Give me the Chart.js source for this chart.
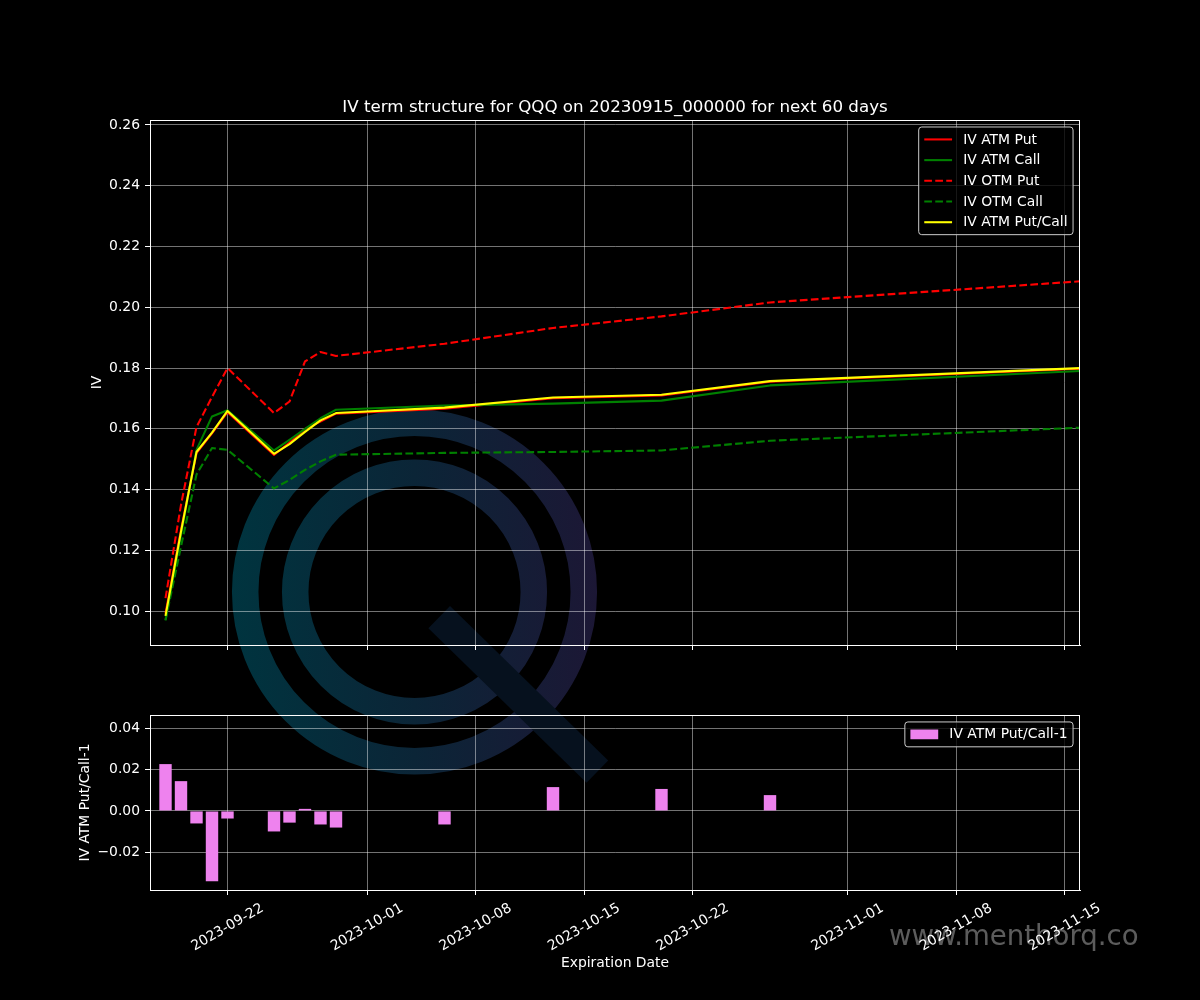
<!DOCTYPE html>
<html>
<head>
<meta charset="utf-8">
<title>IV term structure for QQQ</title>
<script src="https://cdn.jsdelivr.net/npm/chart.js@4.4.0/dist/chart.umd.min.js"></script>
<style>
  html, body { margin: 0; padding: 0; background: #000; }
  #wrap { position: relative; width: 1200px; height: 1000px; overflow: hidden; }
  #wrap canvas { position: absolute; left: 0; }
  #mark { top: 0; }
  #ivChart { top: 0; }
  #diffChart { top: 700px; }
</style>
</head>
<body>
<div id="wrap">
  <canvas id="mark" width="1200" height="1000"></canvas>
  <canvas id="ivChart" width="1200" height="700"></canvas>
  <canvas id="diffChart" width="1200" height="300"></canvas>
</div>
<script>
// Expiration dates and implied vols
const expiries = ['2023-09-18', '2023-09-19', '2023-09-20', '2023-09-21', '2023-09-22',
                  '2023-09-25', '2023-09-26', '2023-09-27', '2023-09-28', '2023-09-29',
                  '2023-10-06', '2023-10-13', '2023-10-20', '2023-10-27', '2023-11-17'];
const ivAtmPut     = [0.0993, 0.1268, 0.1520, 0.1585, 0.1655, 0.1514, 0.1555, 0.1600, 0.1624, 0.1650, 0.1666, 0.1701, 0.1710, 0.1755, 0.1800];
const ivAtmCall    = [0.0971, 0.1250, 0.1531, 0.1641, 0.1661, 0.1529, 0.1564, 0.1600, 0.1635, 0.1663, 0.1677, 0.1683, 0.1693, 0.1743, 0.1793];
const ivOtmPut     = [0.1043, 0.1350, 0.1606, 0.1705, 0.1800, 0.1652, 0.1690, 0.1822, 0.1853, 0.1840, 0.1880, 0.1932, 0.1970, 0.2016, 0.2089];
const ivOtmCall    = [0.0970, 0.1213, 0.1450, 0.1537, 0.1531, 0.1404, 0.1432, 0.1465, 0.1493, 0.1515, 0.1521, 0.1524, 0.1529, 0.1561, 0.1606];
const ivAtmPutCall = [0.0985, 0.1262, 0.1524, 0.1588, 0.1659, 0.1518, 0.1550, 0.1590, 0.1628, 0.1652, 0.1670, 0.1703, 0.1712, 0.1757, 0.1802];
const putCallDiff  = [0.0228, 0.0145, -0.0061, -0.0342, -0.0037, -0.0100, -0.0057, 0.0010, -0.0066, -0.0081, -0.0066, 0.0116, 0.0107, 0.0077, 0.0022];

// axis ticks and ranges
const xTickDates = ['2023-09-22', '2023-10-01', '2023-10-08', '2023-10-15', '2023-10-22', '2023-11-01', '2023-11-08', '2023-11-15'];
const xRange = ['2023-09-17', '2023-11-16'];
const ivTicks = [0.10, 0.12, 0.14, 0.16, 0.18, 0.20, 0.22, 0.24, 0.26];
const ivRange = [0.0889, 0.2616];
const diffTicks = [-0.02, 0.00, 0.02, 0.04];
const diffRange = [-0.0385, 0.0467];

const FONT = 'DejaVu Sans';
const FS = 13.9;          // 10pt at 100 dpi
const GRID = 'rgba(255,255,255,0.45)';

Chart.defaults.color = '#fff';
Chart.defaults.font.family = FONT;
Chart.defaults.font.size = FS;

function dayNum(s) {
    return Date.parse(s + 'T00:00:00Z') / 86400000;
}

function points(values) {
    return expiries.map((d, i) => ({ x: dayNum(d), y: values[i] }));
}

function xAxis(showLabels, titleText) {
    return {
        type: 'linear',
        min: dayNum(xRange[0]),
        max: dayNum(xRange[1]),
        offset: false,
        afterBuildTicks: s => { s.ticks = xTickDates.map(d => ({ value: dayNum(d) })); },
        afterFit: s => { s.height = showLabels ? 110 : 55; },
        ticks: {
            display: showLabels,
            autoSkip: false,
            minRotation: 30,
            maxRotation: 30,
            labelOffset: 35,
            padding: 5,
            color: '#fff',
            callback: (v, i) => xTickDates[i]
        },
        grid: { color: GRID, tickColor: '#fff', tickLength: 5, lineWidth: 1, offset: false },
        border: { color: '#fff', width: 1 },
        title: {
            display: !!titleText,
            text: titleText || '',
            color: '#fff',
            padding: { top: 0, bottom: 28 }
        }
    };
}

function yAxis(range, tickValues, titleText, titleGap, fmt) {
    return {
        type: 'linear',
        min: range[0],
        max: range[1],
        afterBuildTicks: s => { s.ticks = tickValues.map(v => ({ value: v })); },
        afterFit: s => { s.width = 150; },
        ticks: {
            padding: 5,
            color: '#fff',
            callback: v => fmt(v)
        },
        grid: { color: GRID, tickColor: '#fff', tickLength: 5, lineWidth: 1 },
        border: { color: '#fff', width: 1 },
        title: {
            display: true,
            text: titleText,
            color: '#fff',
            padding: { top: titleGap, bottom: 0 }
        }
    };
}

// full box around the plot area plus a matplotlib-like legend
const axesDecor = {
    id: 'axesDecor',
    afterDatasetsDraw(chart) {
        const a = chart.chartArea;
        const ctx = chart.ctx;
        ctx.save();
        ctx.strokeStyle = '#fff';
        ctx.lineWidth = 1;
        ctx.strokeRect(Math.round(a.left) + 0.5, Math.round(a.top) + 0.5,
                       Math.round(a.right - a.left) - 1, Math.round(a.bottom - a.top));
        ctx.restore();
    },
    afterDraw(chart) {
        const ctx = chart.ctx;
        const a = chart.chartArea;
        const isBar = chart.config.type === 'bar';
        const items = chart.data.datasets.map(ds => ({
            label: ds.label,
            color: isBar ? ds.backgroundColor : ds.borderColor,
            dash: ds.borderDash || [],
            width: ds.borderWidth
        }));
        ctx.save();
        ctx.font = FS + 'px ' + FONT;
        const textW = Math.max(...items.map(it => ctx.measureText(it.label).width));
        const pad = 0.4 * FS, handle = 2 * FS, gap = 0.8 * FS, spacing = 0.5 * FS, outer = 0.5 * FS;
        const rowH = 13.75;
        const w = pad * 2 + handle + gap + textW;
        const h = pad * 2 + items.length * rowH + (items.length - 1) * spacing;
        const x0 = a.right - outer - w;
        const y0 = a.top + outer;

        ctx.beginPath();
        ctx.roundRect(x0, y0, w, h, 3);
        ctx.fillStyle = 'rgba(0,0,0,0.8)';
        ctx.fill();
        ctx.strokeStyle = 'rgba(204,204,204,1)';
        ctx.lineWidth = 1;
        ctx.stroke();

        items.forEach((it, i) => {
            const cy = y0 + pad + rowH / 2 + i * (rowH + spacing);
            const hx = x0 + pad;
            if (isBar) {
                ctx.fillStyle = it.color;
                ctx.fillRect(hx, cy - 0.35 * FS, handle, 0.7 * FS);
            } else {
                ctx.strokeStyle = it.color;
                ctx.lineWidth = it.width;
                ctx.setLineDash(it.dash);
                ctx.beginPath();
                ctx.moveTo(hx, cy);
                ctx.lineTo(hx + handle, cy);
                ctx.stroke();
                ctx.setLineDash([]);
            }
            ctx.fillStyle = '#fff';
            ctx.textBaseline = 'middle';
            ctx.fillText(it.label, hx + handle + gap, cy + 0.5);
        });
        ctx.restore();
    }
};

function lineSet(label, values, color, dashed, order) {
    return {
        label: label,
        data: points(values),
        borderColor: color,
        backgroundColor: color,
        borderWidth: 2.08,
        borderDash: dashed ? [7.7, 3.3] : [],
        borderJoinStyle: 'round',
        borderCapStyle: 'butt',
        pointRadius: 0,
        tension: 0,
        fill: false,
        order: order
    };
}

const fmt2 = v => (v < 0 ? '\u2212' : '') + Math.abs(v).toFixed(2);

// Watermark behind both panels
function drawWatermark() {
    const c = document.getElementById('mark').getContext('2d');
    const cx = 414.5, cy = 592;
    const grad = c.createLinearGradient(232, 0, 597, 0);
    grad.addColorStop(0, '#00343f');
    grad.addColorStop(0.5, '#0b2537');
    grad.addColorStop(1, '#1c1735');
    c.strokeStyle = grad;
    c.lineWidth = 26.5;
    [169.3, 119.3].forEach(r => {
        c.beginPath();
        c.arc(cx, cy, r, 0, Math.PI * 2);
        c.stroke();
    });
    c.save();
    c.translate(439.2, 617.2);
    c.rotate(Math.atan2(154.5, 158.3));
    c.fillStyle = '#06111e';
    c.fillRect(0, -15.5, 221, 31);
    c.restore();
    c.font = '27.6px ' + FONT;
    c.fillStyle = 'rgba(128,128,128,0.72)';
    c.textBaseline = 'alphabetic';
    c.fillText('www.menthorq.co', 889, 945);
}

document.addEventListener('DOMContentLoaded', function() {
    drawWatermark();

    // IV term structure (top panel)
    const ivCtx = document.getElementById('ivChart').getContext('2d');
    new Chart(ivCtx, {
        type: 'line',
        data: {
            datasets: [
                lineSet('IV ATM Put', ivAtmPut, '#ff0000', false, 5),
                lineSet('IV ATM Call', ivAtmCall, '#008000', false, 4),
                lineSet('IV OTM Put', ivOtmPut, '#ff0000', true, 3),
                lineSet('IV OTM Call', ivOtmCall, '#008000', true, 2),
                lineSet('IV ATM Put/Call', ivAtmPutCall, '#ffff00', false, 1)
            ]
        },
        options: {
            responsive: false,
            animation: false,
            devicePixelRatio: 1,
            layout: { padding: { top: 98, left: 0, right: 120, bottom: 0 } },
            plugins: {
                legend: { display: false },
                tooltip: { enabled: false },
                title: {
                    display: true,
                    text: 'IV term structure for QQQ on 20230915_000000 for next 60 days',
                    color: '#fff',
                    fullSize: false,
                    font: { size: 16.7, weight: 'normal' },
                    padding: { top: 0, bottom: 2 }
                }
            },
            scales: {
                x: xAxis(false, null),
                y: yAxis(ivRange, ivTicks, 'IV', 88.7, v => v.toFixed(2))
            }
        },
        plugins: [axesDecor]
    });

    // ATM put/call ratio minus one (bottom panel)
    const diffCtx = document.getElementById('diffChart').getContext('2d');
    new Chart(diffCtx, {
        type: 'bar',
        data: {
            datasets: [{
                label: 'IV ATM Put/Call-1',
                data: points(putCallDiff),
                backgroundColor: '#ee82ee',
                borderWidth: 0,
                categoryPercentage: 1,
                barPercentage: 0.8
            }]
        },
        options: {
            responsive: false,
            animation: false,
            devicePixelRatio: 1,
            layout: { padding: { top: 15, left: 0, right: 120, bottom: 0 } },
            plugins: {
                legend: { display: false },
                tooltip: { enabled: false }
            },
            scales: {
                x: xAxis(true, 'Expiration Date'),
                y: yAxis(diffRange, diffTicks, 'IV ATM Put/Call-1', 76.7, fmt2)
            }
        },
        plugins: [axesDecor]
    });
});
</script>
</body>
</html>
